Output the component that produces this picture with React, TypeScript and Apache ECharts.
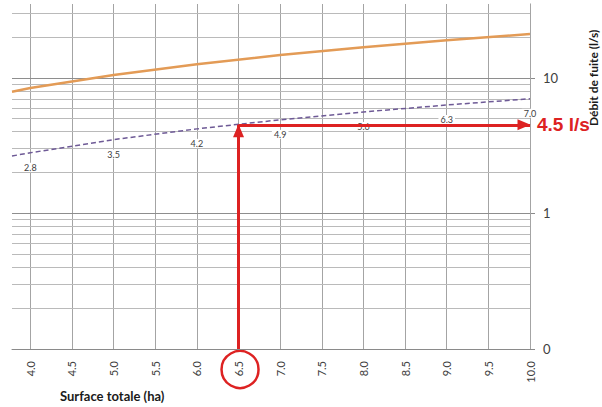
import React, { useEffect, useRef } from "react";
import * as echarts from "echarts";

// Surface totale (ha) and the two discharge curves (l/s)
const surface = [3.78, 4, 5, 6, 7, 8, 9, 10];
const debitMax = [7.9, 8.4, 10.5, 12.6, 14.7, 16.8, 18.9, 21.0];
const debitFuite = [2.65, 2.8, 3.5, 4.2, 4.9, 5.6, 6.3, 7.0];

// Axis ticks
const xTicks = [4, 4.5, 5, 5.5, 6, 6.5, 7, 7.5, 8, 8.5, 9, 9.5, 10];
const yLabels = [0.1, 1, 10];
const yMajor = [1, 10];
const yMinor = [0.2, 0.3, 0.4, 0.5, 0.6, 0.7, 0.8, 0.9, 2, 3, 4, 5, 6, 7, 8, 9, 20, 30];

// Reading example
const surfaceLue = 6.5;
const debitLu = 4.5;

const RED = "#DD2222";
const FONT = "Lato, 'Open Sans', sans-serif";

export default function App() {
  const ref = useRef<HTMLDivElement>(null);

  useEffect(() => {
    document.body.style.margin = "0";
    if (!ref.current) return;
    const chart = echarts.init(ref.current, null, { renderer: "svg" });

    const gridLines: any[] = [
      ...xTicks.map((v) => ({ xAxis: v, lineStyle: { color: "#a4a4a4", width: 1, type: "solid" } })),
      ...yMinor.map((v) => ({ yAxis: v, lineStyle: { color: "#bababa", width: 1, type: "solid" } })),
      ...yMajor.map((v) => ({ yAxis: v, lineStyle: { color: "#8e8e8e", width: 1, type: "solid" } })),
    ];

    chart.setOption({
      animation: false,
      grid: { left: 12, right: 72, top: 4, bottom: 58 },
      xAxis: {
        type: "value",
        min: surface[0],
        max: 10,
        axisLine: { show: true, lineStyle: { color: "#8a8a8a", width: 1 } },
        axisTick: { show: false },
        splitLine: { show: false },
        axisLabel: {
          customValues: xTicks,
          rotate: 90,
          margin: 12,
          fontSize: 11,
          fontFamily: FONT,
          color: "#404040",
          formatter: (v: number) => v.toFixed(1),
        },
      },
      yAxis: {
        type: "log",
        logBase: 10,
        min: 0.1,
        max: 35,
        position: "right",
        axisLine: { show: true, lineStyle: { color: "#8a8a8a", width: 1 } },
        axisTick: { show: true, length: 5, customValues: yLabels, lineStyle: { color: "#8a8a8a" } },
        splitLine: { show: false },
        axisLabel: {
          customValues: yLabels,
          margin: 13,
          fontSize: 13,
          fontFamily: FONT,
          color: "#404040",
          formatter: (v: number) => String(Math.round(v)),
        },
      },
      series: [
        {
          name: "Débit maximal",
          type: "line",
          data: surface.map((s, i) => [s, debitMax[i]]),
          symbol: "none",
          lineStyle: { color: "#E39B56", width: 2.5 },
          z: 3,
          markLine: {
            silent: true,
            z: 1,
            symbol: ["none", "none"],
            label: { show: false },
            data: gridLines,
          },
        },
        {
          name: "Débit de fuite",
          type: "line",
          data: surface.map((s, i) => ({
            value: [s, debitFuite[i]],
            label: { show: i > 0 },
          })),
          symbol: "circle",
          symbolSize: 0,
          showSymbol: true,
          itemStyle: { color: "#6E5A96" },
          lineStyle: { color: "#6E5A96", width: 1.5, type: [5, 3] },
          label: {
            show: true,
            position: "bottom",
            distance: 10,
            fontSize: 9,
            fontFamily: FONT,
            color: "#404040",
            backgroundColor: "#ffffff",
            padding: [0, 2],
            formatter: (p: any) => p.value[1].toFixed(1),
          },
          z: 4,
          markLine: {
            silent: true,
            z: 6,
            symbol: ["none", "triangle"],
            symbolSize: [11, 13],
            symbolOffset: [0, [0, 6]],
            lineStyle: { color: RED, width: 3, type: "solid" },
            label: { show: false },
            data: [
              [{ coord: [surfaceLue, 0.1] }, { coord: [surfaceLue, debitLu] }],
              [
                {
                  coord: [surfaceLue, debitLu],
                  label: {
                    show: true,
                    position: "end",
                    distance: 7,
                    padding: [10, 0, 0, 0],
                    formatter: `${debitLu} l/s`,
                    color: RED,
                    fontSize: 19,
                    fontWeight: "bold",
                    fontFamily: "'Liberation Sans', Arial, sans-serif",
                  },
                },
                { coord: [10, debitLu] },
              ],
            ],
          },
        },
      ],
    });

    const [cx, cy] = chart.convertToPixel({ xAxisIndex: 0, yAxisIndex: 0 }, [surfaceLue, 0.1]) as number[];
    const [, y10] = chart.convertToPixel({ xAxisIndex: 0, yAxisIndex: 0 }, [10, 10]) as number[];

    chart.setOption({
      graphic: [
        {
          type: "circle",
          shape: { cx: cx + 1.5, cy: cy + 20.5, r: 18.5 },
          style: { fill: "none", stroke: RED, lineWidth: 2.5 },
          silent: true,
        },
        {
          type: "text",
          x: 593,
          y: y10,
          rotation: Math.PI / 2,
          style: {
            text: "Débit de fuite (l/s)",
            fontSize: 12,
            fontWeight: "bold",
            fontFamily: FONT,
            fill: "#1a1a1a",
            textAlign: "center",
            textVerticalAlign: "middle",
          },
        },
        {
          type: "text",
          x: 60,
          y: 396,
          style: {
            text: "Surface totale (ha)",
            fontSize: 13,
            fontWeight: "bold",
            fontFamily: FONT,
            fill: "#1a1a1a",
            textAlign: "left",
            textVerticalAlign: "middle",
          },
        },
      ],
    });

    return () => chart.dispose();
  }, []);

  return <div ref={ref} style={{ width: 602, height: 407 }} />;
}
